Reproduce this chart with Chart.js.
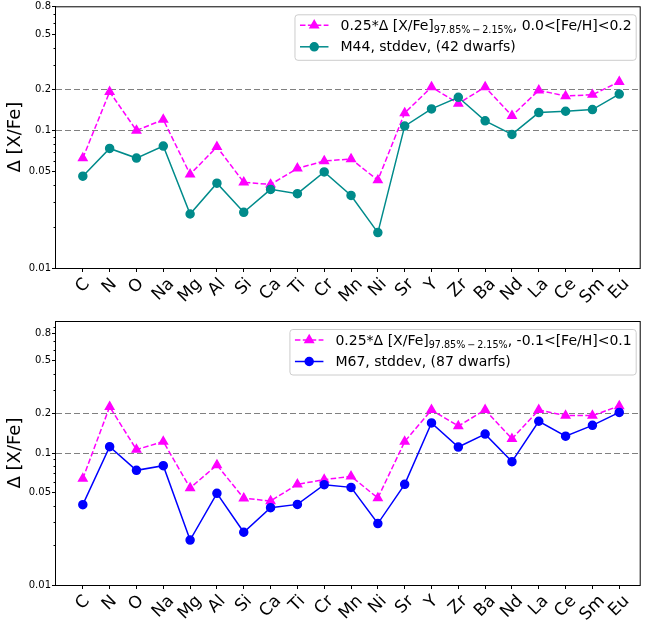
<!DOCTYPE html>
<html>
<head>
<meta charset="utf-8">
<script src="https://cdn.jsdelivr.net/npm/chart.js@4.4.1/dist/chart.umd.min.js"></script>
<style>
  body { margin: 0; background: #fff; }
  canvas { display: block; }
</style>
</head>
<body>
<canvas id="top" width="647" height="310"></canvas>
<canvas id="bottom" width="647" height="320"></canvas>
<script>
// elements on the x axis
const elements = ['C', 'N', 'O', 'Na', 'Mg', 'Al', 'Si', 'Ca', 'Ti', 'Cr', 'Mn', 'Ni',
                  'Sr', 'Y', 'Zr', 'Ba', 'Nd', 'La', 'Ce', 'Sm', 'Eu'];

// top panel: field range (scaled) and M44 scatter
const m44Range = [0.063, 0.191, 0.100, 0.120, 0.048, 0.076, 0.042, 0.0405, 0.053, 0.060, 0.062,
                  0.0435, 0.134, 0.207, 0.157, 0.207, 0.128, 0.196, 0.178, 0.182, 0.226];
const m44Std = [0.0465, 0.074, 0.063, 0.077, 0.0247, 0.0414, 0.0254, 0.0373, 0.0347, 0.050, 0.0337,
                0.0181, 0.1076, 0.1435, 0.1744, 0.1175, 0.0936, 0.135, 0.138, 0.142, 0.184];

// bottom panel: field range (scaled) and M67 scatter
const m67Range = [0.064, 0.224, 0.106, 0.122, 0.0543, 0.0811, 0.0454, 0.0433, 0.0579, 0.0628, 0.0666,
                  0.0456, 0.122, 0.212, 0.160, 0.212, 0.128, 0.212, 0.192, 0.192, 0.227];
const m67Std = [0.0406, 0.1117, 0.0739, 0.0802, 0.0219, 0.0495, 0.0251, 0.0385, 0.0408, 0.0575, 0.0549,
                0.0292, 0.0579, 0.169, 0.111, 0.139, 0.086, 0.174, 0.134, 0.162, 0.203];

const yTicks = [0.01, 0.05, 0.1, 0.2, 0.5, 0.8];
const yMinor = [0.02, 0.03, 0.04, 0.06, 0.07, 0.08, 0.09, 0.3, 0.4, 0.6, 0.7, 0.9];
const refLines = [0.1, 0.2];

const FONT = 'DejaVu Sans';

function toPoints(arr) {
    return arr.map((v, i) => ({ x: i, y: v }));
}

// draws frame, dashed guide lines, minor ticks, rotated x labels and the legend
const panelPlugin = {
    id: 'panel',
    beforeDatasetsDraw(chart) {
        const ctx = chart.ctx, a = chart.chartArea, ys = chart.scales.y;
        ctx.save();
        ctx.strokeStyle = '#808080';
        ctx.lineWidth = 1.2;
        ctx.setLineDash([6, 3]);
        refLines.forEach(v => {
            const y = Math.round(ys.getPixelForValue(v)) + 0.5;
            ctx.beginPath();
            ctx.moveTo(a.left, y);
            ctx.lineTo(a.right, y);
            ctx.stroke();
        });
        ctx.restore();
    },
    afterDraw(chart) {
        const ctx = chart.ctx, a = chart.chartArea, ys = chart.scales.y, xs = chart.scales.x;
        const opts = chart.options.plugins.panel;
        ctx.save();

        // minor ticks
        ctx.strokeStyle = '#000';
        ctx.lineWidth = 1;
        yMinor.forEach(v => {
            if (v > ys.max) return;
            const y = Math.round(ys.getPixelForValue(v)) + 0.5;
            ctx.beginPath();
            ctx.moveTo(a.left - 2.5, y);
            ctx.lineTo(a.left, y);
            ctx.stroke();
        });

        // frame
        ctx.strokeRect(a.left - 0.5, a.top + 0.5, a.right - a.left, a.bottom - a.top);

        // rotated x labels, centred on the tick like matplotlib
        ctx.fillStyle = '#000';
        ctx.font = '17px "' + FONT + '"';
        ctx.textAlign = 'center';
        ctx.textBaseline = 'middle';
        const top = a.bottom + 7.5, h = 17, c = Math.SQRT1_2;
        elements.forEach((lab, i) => {
            const w = ctx.measureText(lab).width;
            const half = (w + h) * c / 2;
            ctx.save();
            ctx.translate(xs.getPixelForValue(i), top + half);
            ctx.rotate(-Math.PI / 4);
            ctx.fillText(lab, 0, 0);
            ctx.restore();
        });

        // legend
        const big = '14px "' + FONT + '"', small = '9.6px "' + FONT + '"';
        ctx.font = big;
        const wMain = ctx.measureText(opts.main).width;
        const wTail = ctx.measureText(opts.tail).width;
        const wSecond = ctx.measureText(opts.second).width;
        ctx.font = small;
        const wSub = ctx.measureText(opts.sub).width;
        const textW = Math.max(wMain + wSub + wTail, wSecond);
        const boxW = 46 + textW + 4, boxH = 45.5;
        const bx = a.right - 5 - boxW, by = a.top + 8;

        ctx.beginPath();
        ctx.roundRect(bx + 0.5, by + 0.5, boxW, boxH, 3);
        ctx.fillStyle = 'rgba(255,255,255,0.8)';
        ctx.fill();
        ctx.strokeStyle = '#cccccc';
        ctx.stroke();

        const rows = [
            { y: by + 11, ds: chart.data.datasets[1] },
            { y: by + 32.5, ds: chart.data.datasets[0] }
        ];
        rows.forEach(r => {
            const ds = r.ds;
            ctx.save();
            ctx.strokeStyle = ds.borderColor;
            ctx.lineWidth = ds.borderWidth;
            ctx.setLineDash(ds.borderDash || []);
            ctx.beginPath();
            ctx.moveTo(bx + 5.5, r.y);
            ctx.lineTo(bx + 34, r.y);
            ctx.stroke();
            ctx.setLineDash([]);
            ctx.fillStyle = ds.pointBackgroundColor;
            ctx.strokeStyle = ds.pointBackgroundColor;
            Chart.helpers.drawPoint(ctx, {
                pointStyle: ds.pointStyle, radius: ds.pointRadius, rotation: 0, borderWidth: 1
            }, bx + 19.75, r.y);
            ctx.restore();
        });

        ctx.fillStyle = '#000';
        ctx.textAlign = 'left';
        ctx.textBaseline = 'alphabetic';
        let tx = bx + 46;
        ctx.font = big;
        ctx.fillText(opts.main, tx, rows[0].y + 4.5);
        tx += wMain;
        ctx.font = small;
        ctx.fillText(opts.sub, tx, rows[0].y + 7.5);
        tx += wSub;
        ctx.font = big;
        ctx.fillText(opts.tail, tx, rows[0].y + 4.5);
        ctx.fillText(opts.second, bx + 46, rows[1].y + 4.5);

        ctx.restore();
    }
};

function makePanel(id, rangeVals, stdVals, stdColor, yMax, padTop, xHeight, legendText) {
    return new Chart(document.getElementById(id), {
        type: 'line',
        data: {
            datasets: [{
                data: toPoints(stdVals),
                borderColor: stdColor,
                backgroundColor: stdColor,
                pointBackgroundColor: stdColor,
                pointBorderColor: stdColor,
                borderWidth: 1.5,
                pointStyle: 'circle',
                pointRadius: 4,
                order: 1
            }, {
                data: toPoints(rangeVals),
                borderColor: '#ff00ff',
                backgroundColor: '#ff00ff',
                pointBackgroundColor: '#ff00ff',
                pointBorderColor: '#ff00ff',
                borderWidth: 1.5,
                borderDash: [5.5, 2.4],
                pointStyle: 'triangle',
                pointRadius: 4.8,
                order: 2
            }]
        },
        options: {
            responsive: false,
            animation: false,
            devicePixelRatio: 1,
            layout: { padding: { top: padTop, right: 1, left: 0, bottom: 0 } },
            plugins: {
                legend: { display: false },
                tooltip: { enabled: false },
                panel: legendText
            },
            scales: {
                x: {
                    type: 'linear',
                    min: -1,
                    max: 20.8,
                    afterBuildTicks: s => { s.ticks = elements.map((e, i) => ({ value: i })); },
                    afterFit: s => { s.height = xHeight; s.paddingLeft = 0; s.paddingRight = 0; },
                    ticks: { display: false, autoSkip: false },
                    grid: { drawOnChartArea: false, color: '#000', tickLength: 4 },
                    border: { display: false }
                },
                y: {
                    type: 'logarithmic',
                    min: 0.01,
                    max: yMax,
                    afterBuildTicks: s => { s.ticks = yTicks.map(v => ({ value: v })); },
                    afterFit: s => { s.width = 56; s.paddingTop = 0; s.paddingBottom = 0; },
                    ticks: {
                        color: '#000',
                        padding: 1,
                        font: { family: FONT, size: 10 },
                        callback: v => String(v)
                    },
                    grid: { drawOnChartArea: false, color: '#000', tickLength: 4 },
                    border: { display: false },
                    title: {
                        display: true,
                        text: 'Δ [X/Fe]',
                        color: '#000',
                        font: { family: FONT, size: 18 },
                        padding: { top: 5, bottom: 0 }
                    }
                }
            }
        },
        plugins: [panelPlugin]
    });
}

makePanel('top', m44Range, m44Std, '#008b8b', 0.8, 4, 42, {
    main: '0.25*Δ [X/Fe]',
    sub: '97.85%\u2009\u2212\u20092.15%',
    tail: ', 0.0<[Fe/H]<0.2',
    second: 'M44, stddev, (42 dwarfs)'
});

makePanel('bottom', m67Range, m67Std, '#0000ff', 1.0, 11, 45, {
    main: '0.25*Δ [X/Fe]',
    sub: '97.85%\u2009\u2212\u20092.15%',
    tail: ', -0.1<[Fe/H]<0.1',
    second: 'M67, stddev, (87 dwarfs)'
});
</script>
</body>
</html>
